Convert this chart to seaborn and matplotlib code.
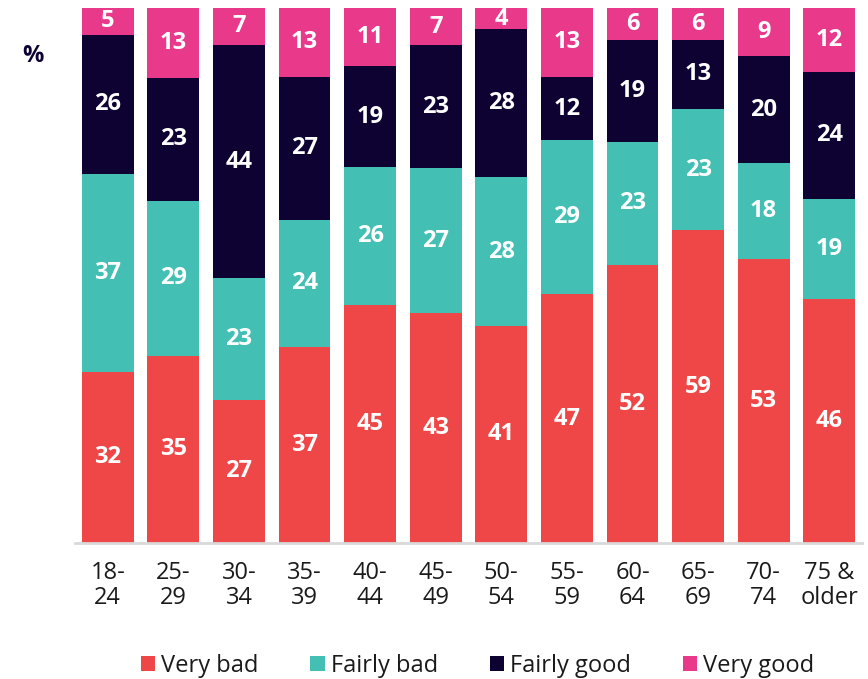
import matplotlib
matplotlib.use("Agg")
import matplotlib.pyplot as plt
import seaborn as sns
import numpy as np
import pandas as pd

# datos
categorias = ['18-\n24', '25-\n29', '30-\n34', '35-\n39', '40-\n44', '45-\n49',
              '50-\n54', '55-\n59', '60-\n64', '65-\n69', '70-\n74', '75 &\nolder']
very_bad = [32, 35, 27, 37, 45, 43, 41, 47, 52, 59, 53, 46]
fairly_bad = [37, 29, 23, 24, 26, 27, 28, 29, 23, 23, 18, 19]
fairly_good = [26, 23, 44, 27, 19, 23, 28, 12, 19, 13, 20, 24]
very_good = [5, 13, 7, 13, 11, 7, 4, 13, 6, 6, 9, 12]

series = ['Very bad', 'Fairly bad', 'Fairly good', 'Very good']
colores = ['#EF4747', '#44BFB4', '#0D0232', '#E8398B']

sns.set_theme(style="white")
plt.rcParams['font.family'] = ['Open Sans', 'DejaVu Sans']

valores = np.array([very_bad, fairly_bad, fairly_good, very_good], dtype=float)
# los totales son 100-101 por redondeo; se escalan a 100
escalados = valores / valores.sum(axis=0) * 100

fig = plt.figure(figsize=(8.68, 6.79), dpi=100)
ax = fig.add_axes([0.0864, 0.2003, 0.9067, 0.788])

base = np.zeros(len(categorias))
for i, nombre in enumerate(series):
    df = pd.DataFrame({'cat': categorias, 'val': escalados[i]})
    sns.barplot(ax=ax, data=df, x='cat', y='val', color=colores[i], bottom=base,
                width=0.79, label=nombre, saturation=1, linewidth=0)
    base = base + escalados[i]

for cont, vals in zip(ax.containers, valores):
    ax.bar_label(cont, labels=[f'{int(v)}' for v in vals], label_type='center',
                 color='white', fontweight='bold', fontsize=17)

ax.set_xlim(-0.5, 11.5)
ax.set_ylim(0, 100)
ax.set_yticks([])
ax.set_xlabel('')
ax.set_ylabel('')
for s in ['top', 'right', 'left']:
    ax.spines[s].set_visible(False)
ax.spines['bottom'].set_color('#d9d9d9')
ax.spines['bottom'].set_linewidth(2)
ax.tick_params(axis='x', length=0, labelsize=17, colors='#1a1a1a', pad=13)
for t in ax.get_xticklabels():
    t.set_linespacing(1.05)

fig.text(0.038, 0.918, '%', fontsize=17, fontweight='bold', color='#0D0232', ha='center', va='center')

if ax.get_legend():
    ax.get_legend().remove()
handles, labels = ax.get_legend_handles_labels()
fig.legend(handles, labels, loc='center', bbox_to_anchor=(0.55, 0.019), ncol=4, frameon=False,
           fontsize=17, handlelength=0.6, handleheight=0.6, handletextpad=0.25, columnspacing=2.2,
           labelcolor='#1a1a1a')

fig.savefig('out.png', dpi=100)
